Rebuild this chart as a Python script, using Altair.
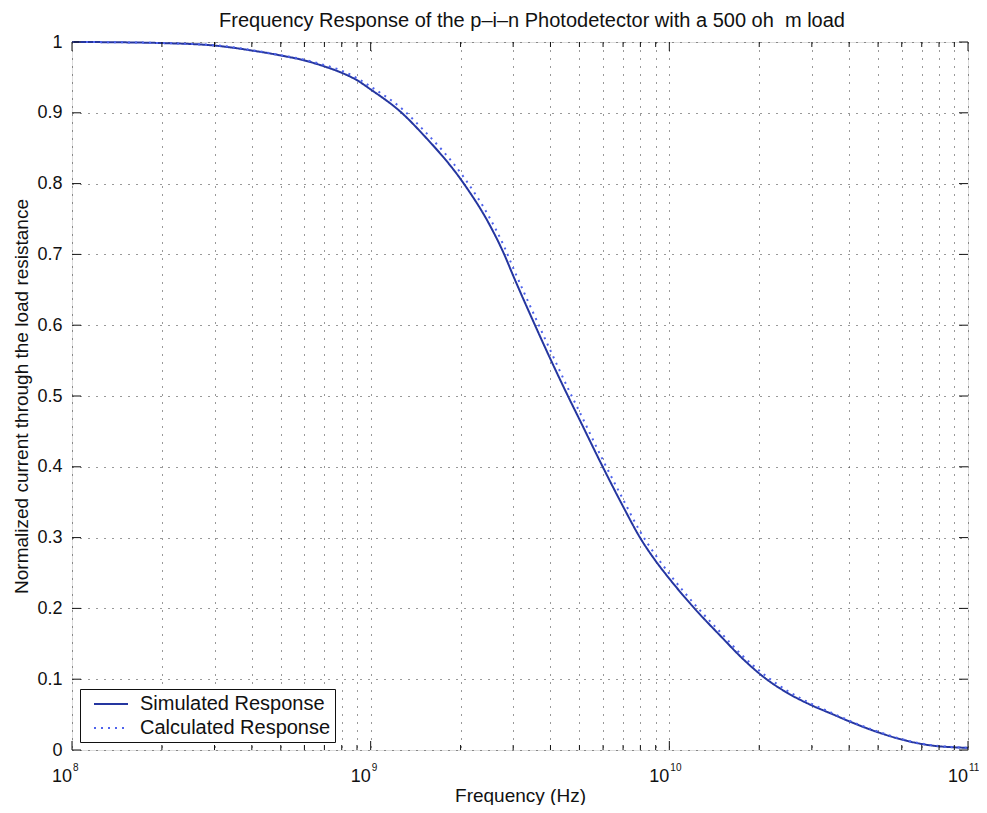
import altair as alt
import pandas as pd

# ---- data ----
freq = [1e8, 1.5e8, 2e8, 3e8, 4e8, 5e8, 6e8, 7e8, 8e8, 9e8,
        1e9, 1.27e9, 1.5e9, 2.05e9, 2.5e9, 2.8e9, 3e9, 3.55e9, 4e9, 4.6e9,
        5e9, 6e9, 7e9, 7.95e9, 9e9, 1e10, 1.22e10, 1.5e10, 1.75e10, 2.1e10,
        2.5e10, 3e10, 3.5e10, 4e10, 5e10, 6e10, 7e10, 8e10, 9e10, 1e11]
simulated = [1.000, 0.9995, 0.9985, 0.995, 0.988, 0.981, 0.974, 0.9655, 0.9565, 0.946,
             0.933, 0.900, 0.869, 0.800, 0.742, 0.700, 0.670, 0.600, 0.552, 0.498,
             0.467, 0.399, 0.344, 0.301, 0.267, 0.242, 0.199, 0.159, 0.130, 0.101,
             0.080, 0.063, 0.051, 0.0405, 0.025, 0.0148, 0.0085, 0.0052, 0.0038, 0.003]
calculated = [1.000, 0.9995, 0.9985, 0.9955, 0.9885, 0.9815, 0.975, 0.9675, 0.9595, 0.949,
              0.937, 0.906, 0.876, 0.809, 0.752, 0.711, 0.681, 0.612, 0.564, 0.509,
              0.478, 0.409, 0.354, 0.310, 0.275, 0.249, 0.205, 0.164, 0.134, 0.105,
              0.083, 0.065, 0.0525, 0.0415, 0.026, 0.0153, 0.009, 0.0057, 0.0041, 0.003]
series_names = ["Simulated Response", "Calculated Response"]

decades = [1e8, 1e9, 1e10, 1e11]
decade_base = ["10", "10", "10", "10"]
decade_exp = ["8", "9", "10", "11"]
minor_ticks = [2e8, 3e8, 4e8, 5e8, 6e8, 7e8, 8e8, 9e8,
               2e9, 3e9, 4e9, 5e9, 6e9, 7e9, 8e9, 9e9,
               2e10, 3e10, 4e10, 5e10, 6e10, 7e10, 8e10, 9e10]
y_ticks = [0, 0.1, 0.2, 0.3, 0.4, 0.5, 0.6, 0.7, 0.8, 0.9, 1]

title_text = "Frequency Response of the p\u2013i\u2013n Photodetector with a 500 oh\u00a0 m load"
x_title = "Frequency (Hz)"
y_title = "Normalized current through the load resistance"

# ---- layout ----
W, H = 896, 708
FONT = "Liberation Sans"
INK = "#111111"
MAJ, MIN = 9, 5

curves = pd.DataFrame({
    "f": freq * 2,
    "v": simulated + calculated,
    "series": [series_names[0]] * len(freq) + [series_names[1]] * len(freq),
})
dec_df = pd.DataFrame({"f": decades, "base": decade_base, "exp": decade_exp})
minor_df = pd.DataFrame({"f": minor_ticks})
ytick_df = pd.DataFrame({"v": y_ticks})

xscale = alt.Scale(type="log", domain=[1e8, 1e11], nice=False)
yscale = alt.Scale(domain=[0, 1], nice=False, zero=False)

all_x_grid = sorted(decades + minor_ticks)

lines = alt.Chart(curves).mark_line(interpolate="monotone", strokeWidth=2).encode(
    x=alt.X("f:Q", scale=xscale,
            axis=alt.Axis(values=all_x_grid, labels=False, ticks=False, domain=False,
                          grid=True, gridDash=[1, 7], gridColor="#333333", gridOpacity=1,
                          gridWidth=1, title=x_title, titleFont=FONT, titleFontSize=19,
                          titleFontWeight="normal", titleColor=INK,
                          titleY=51, titleBaseline="alphabetic")),
    y=alt.Y("v:Q", scale=yscale,
            axis=alt.Axis(values=y_ticks, format="~g", ticks=False, domain=False,
                          grid=True, gridDash=[1, 7], gridColor="#333333", gridOpacity=1,
                          gridWidth=1, labelFont=FONT, labelFontSize=18, labelColor=INK,
                          labelPadding=10, title=y_title, titleFont=FONT, titleFontSize=19,
                          titleFontWeight="normal", titleColor=INK,
                          titleX=-45, titleBaseline="alphabetic")),
    color=alt.Color("series:N",
                    scale=alt.Scale(domain=series_names, range=["#2536a0", "#4f63ec"]),
                    legend=alt.Legend(title=None, orient="bottom-left", offset=8,
                                      symbolType="M-0.1,0L3.3,0", symbolSize=400,
                                      symbolStrokeWidth=2, labelFont=FONT,
                                      labelFontSize=20, labelColor=INK, labelLimit=500,
                                      labelOffset=34, fillColor="white",
                                      strokeColor=INK, padding=4, rowPadding=3,
                                      cornerRadius=0)),
    strokeDash=alt.StrokeDash("series:N",
                              scale=alt.Scale(domain=series_names, range=[[1, 0], [2, 5]]),
                              legend=alt.Legend(title=None)),
    order=alt.Order("series:N", sort="descending"),
)

maj_bottom = alt.Chart(dec_df).mark_rule(color=INK).encode(
    x=alt.X("f:Q", scale=xscale), y=alt.value(H), y2=alt.value(H - MAJ))
maj_top = alt.Chart(dec_df).mark_rule(color=INK).encode(
    x=alt.X("f:Q", scale=xscale), y=alt.value(0), y2=alt.value(MAJ))
min_bottom = alt.Chart(minor_df).mark_rule(color=INK).encode(
    x=alt.X("f:Q", scale=xscale), y=alt.value(H), y2=alt.value(H - MIN))
min_top = alt.Chart(minor_df).mark_rule(color=INK).encode(
    x=alt.X("f:Q", scale=xscale), y=alt.value(0), y2=alt.value(MIN))
y_left = alt.Chart(ytick_df).mark_rule(color=INK).encode(
    y=alt.Y("v:Q", scale=yscale), x=alt.value(0), x2=alt.value(MAJ))
y_right = alt.Chart(ytick_df).mark_rule(color=INK).encode(
    y=alt.Y("v:Q", scale=yscale), x=alt.value(W), x2=alt.value(W - MAJ))

base_lbl = alt.Chart(dec_df).mark_text(align="right", baseline="alphabetic", dx=0,
                                       font=FONT, fontSize=18, color=INK).encode(
    x=alt.X("f:Q", scale=xscale), y=alt.value(H + 32), text="base:N")
exp_lbl = alt.Chart(dec_df).mark_text(align="left", baseline="alphabetic", dx=1,
                                      font=FONT, fontSize=10, color=INK).encode(
    x=alt.X("f:Q", scale=xscale), y=alt.value(H + 21), text="exp:N")

chart = alt.layer(
    lines, maj_bottom, maj_top, min_bottom, min_top, y_left, y_right, base_lbl, exp_lbl
).properties(
    width=W, height=H,
    title=alt.TitleParams(title_text, font=FONT, fontSize=20, fontWeight="normal",
                          color=INK, anchor="middle", frame="group", offset=2, dx=12),
    autosize=alt.AutoSizeParams(type="none"),
    padding={"left": 64, "top": 34, "right": 11, "bottom": 55},
).configure_view(
    stroke=INK, strokeWidth=1
).configure(background="white")

chart.save("out.html", embed_options={"renderer": "svg", "actions": False})
